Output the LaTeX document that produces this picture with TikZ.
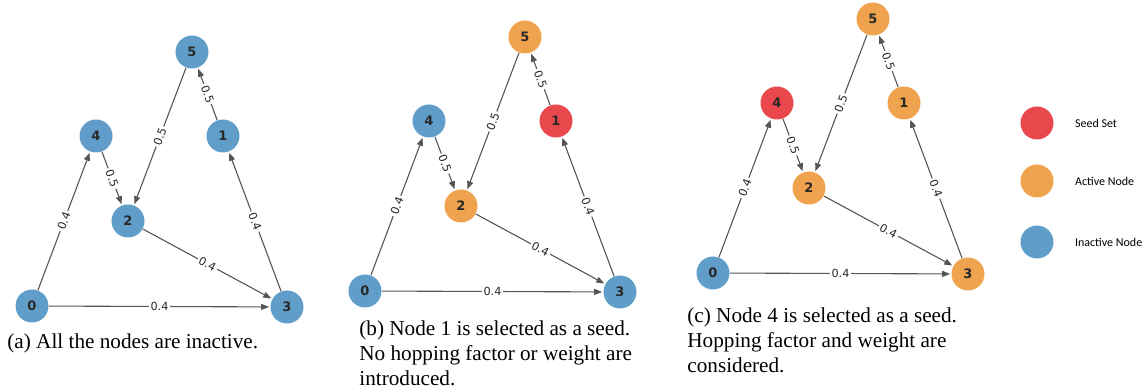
\documentclass[tikz,border=0pt]{standalone}
\usepackage{fontspec}
\setmainfont{Liberation Serif}
\newfontfamily\dejavu{DejaVu Sans}
\newfontfamily\carlito{Carlito}
\usetikzlibrary{arrows.meta}

\definecolor{inactiveblue}{RGB}{96,158,201}
\definecolor{activeorange}{RGB}{240,163,78}
\definecolor{seedred}{RGB}{232,72,76}
\definecolor{edgegray}{RGB}{85,85,85}
\definecolor{labelgray}{RGB}{40,40,40}

\tikzset{
  vertex/.style={circle, minimum size=16.5pt, inner sep=0pt, text=labelgray,
    font=\dejavu\bfseries\fontsize{6.5}{7}\selectfont},
  inactive/.style={vertex, fill=inactiveblue},
  active/.style={vertex, fill=activeorange},
  seed/.style={vertex, fill=seedred},
  edge/.style={draw=edgegray, line width=0.55pt, -{Triangle[length=4pt,width=3pt]}, shorten >=0.5pt},
  weight/.style={midway, sloped, fill=white, inner sep=0.9pt, text=labelgray,
    font=\dejavu\fontsize{5.6}{6}\selectfont},
  caption/.style={anchor=base west, inner sep=0pt, font=\fontsize{10.6}{12.5}\selectfont},
  legendtext/.style={anchor=west, font=\carlito\fontsize{6}{7}\selectfont}
}

\begin{document}
\begin{tikzpicture}[x=0.5pt, y=-0.5pt]
    \useasboundingbox (0,0) rectangle (1148,389);

    % (a) All the nodes are inactive
    \node[inactive] (a0) at (32,306) {0};
    \node[inactive] (a1) at (223,136) {1};
    \node[inactive] (a2) at (128,221) {2};
    \node[inactive] (a3) at (287,307) {3};
    \node[inactive] (a4) at (96,136) {4};
    \node[inactive] (a5) at (192,52) {5};

    \draw[edge] (a0) -- node[weight] {0.4} (a4);
    \draw[edge] (a0) -- node[weight] {0.4} (a3);
    \draw[edge] (a4) -- node[weight] {0.5} (a2);
    \draw[edge] (a5) -- node[weight] {0.5} (a2);
    \draw[edge] (a2) -- node[weight] {0.4} (a3);
    \draw[edge] (a3) -- node[weight] {0.4} (a1);
    \draw[edge] (a1) -- node[weight] {0.5} (a5);

    \node[caption] (capa) at (7,349) {(a) All the nodes are inactive.};

    % (b) Node 1 is the seed
    \begin{scope}[shift={(333,-15)}]
    \node[inactive] (b0) at (32,306) {0};
    \node[seed] (b1) at (223,136) {1};
    \node[active] (b2) at (128,221) {2};
    \node[inactive] (b3) at (287,307) {3};
    \node[inactive] (b4) at (96,136) {4};
    \node[active] (b5) at (192,52) {5};

    \draw[edge] (b0) -- node[weight] {0.4} (b4);
    \draw[edge] (b0) -- node[weight] {0.4} (b3);
    \draw[edge] (b4) -- node[weight] {0.5} (b2);
    \draw[edge] (b5) -- node[weight] {0.5} (b2);
    \draw[edge] (b2) -- node[weight] {0.4} (b3);
    \draw[edge] (b3) -- node[weight] {0.4} (b1);
    \draw[edge] (b1) -- node[weight] {0.5} (b5);
    \end{scope}

    \node[caption] (capb) at (359,336) {\begin{tabular}[t]{@{}l@{}}(b) Node 1 is selected as a seed.\\No hopping factor or weight are\\introduced.\end{tabular}};

    % (c) Node 4 is the seed
    \begin{scope}[shift={(681,-33)}]
    \node[inactive] (c0) at (32,306) {0};
    \node[active] (c1) at (223,136) {1};
    \node[active] (c2) at (128,221) {2};
    \node[active] (c3) at (287,307) {3};
    \node[seed] (c4) at (96,136) {4};
    \node[active] (c5) at (192,52) {5};

    \draw[edge] (c0) -- node[weight] {0.4} (c4);
    \draw[edge] (c0) -- node[weight] {0.4} (c3);
    \draw[edge] (c4) -- node[weight] {0.5} (c2);
    \draw[edge] (c5) -- node[weight] {0.5} (c2);
    \draw[edge] (c2) -- node[weight] {0.4} (c3);
    \draw[edge] (c3) -- node[weight] {0.4} (c1);
    \draw[edge] (c1) -- node[weight] {0.5} (c5);
    \end{scope}

    \node[caption] (capc) at (687,323) {\begin{tabular}[t]{@{}l@{}}(c) Node 4 is selected as a seed.\\Hopping factor and weight are\\considered.\end{tabular}};

    % Legend
    \node[seed] (keyseed) at (1037,123) {};
    \node[legendtext] at (1068,123) {Seed Set};
    \node[active] (keyactive) at (1037,181) {};
    \node[legendtext] at (1068,181) {Active Node};
    \node[inactive] (keyinactive) at (1037,242) {};
    \node[legendtext] at (1068,242) {Inactive Node};
\end{tikzpicture}
\end{document}
